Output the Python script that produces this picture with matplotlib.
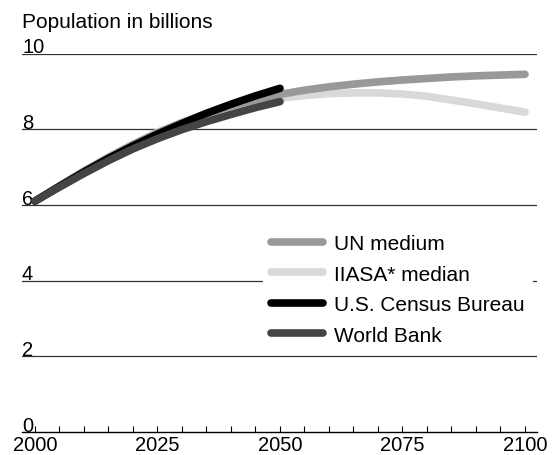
import matplotlib
matplotlib.use("Agg")
import matplotlib.pyplot as plt
from matplotlib.ticker import MultipleLocator

plt.rcParams['font.family'] = ['Liberation Sans', 'DejaVu Sans']

years_long = [2000, 2005, 2010, 2015, 2020, 2025, 2030, 2035, 2040, 2045, 2050,
              2055, 2060, 2065, 2070, 2075, 2080, 2085, 2090, 2095, 2100]
years_short = [2000, 2005, 2010, 2015, 2020, 2025, 2030, 2035, 2040, 2045, 2050]

un_medium = [6.1, 6.5, 6.89, 7.25, 7.59, 7.9, 8.17, 8.41, 8.61, 8.78, 8.92,
             9.03, 9.12, 9.19, 9.25, 9.3, 9.34, 9.38, 9.41, 9.43, 9.45]
iiasa_median = [6.1, 6.51, 6.9, 7.27, 7.61, 7.92, 8.18, 8.4, 8.58, 8.72, 8.82,
                8.89, 8.94, 8.96, 8.96, 8.93, 8.87, 8.77, 8.67, 8.56, 8.45]
us_census = [6.1, 6.49, 6.87, 7.23, 7.56, 7.87, 8.15, 8.42, 8.66, 8.88, 9.08]
world_bank = [6.1, 6.47, 6.83, 7.17, 7.48, 7.75, 7.99, 8.2, 8.39, 8.57, 8.73]

labels = ['UN medium', 'IIASA* median', 'U.S. Census Bureau', 'World Bank']
colors = ['#999999', '#d9d9d9', '#000000', '#444444']
grid_vals = [2, 4, 6, 8, 10]
ytick_labels = ['0', '2', '4', '6', '8', '10']

W, H = 553, 456
fig = plt.figure(figsize=(W / 100, H / 100), dpi=100)
ax = fig.add_axes([22 / W, (H - 433) / H, 515 / W, (433 - 54.5) / H])
ax.set_xlim(1997.35, 2102.45)
ax.set_ylim(0, 10)

lw = 5.5
h_iiasa, = ax.plot(years_long, iiasa_median, color=colors[1], lw=lw, solid_capstyle='round',
                   solid_joinstyle='round', clip_on=False, zorder=3)
h_un, = ax.plot(years_long, un_medium, color=colors[0], lw=lw, solid_capstyle='round',
                solid_joinstyle='round', clip_on=False, zorder=4)
h_us, = ax.plot(years_short, us_census, color=colors[2], lw=lw, solid_capstyle='round',
                solid_joinstyle='round', clip_on=False, zorder=5)
h_wb, = ax.plot(years_short, world_bank, color=colors[3], lw=lw, solid_capstyle='round',
                solid_joinstyle='round', clip_on=False, zorder=6)

for g in grid_vals:
    ax.axhline(g, color='#333333', lw=0.9, zorder=1)

for spine in ['top', 'right', 'left']:
    ax.spines[spine].set_visible(False)
ax.spines['bottom'].set_linewidth(1.0)

ax.set_yticks([])
ax.xaxis.set_major_locator(MultipleLocator(25))
ax.xaxis.set_minor_locator(MultipleLocator(5))
ax.set_xticks([2000, 2025, 2050, 2075, 2100])
ax.tick_params(axis='x', which='both', direction='in', length=4.3, width=0.8, pad=2.5, labelsize=14.5)

for i, lab in enumerate(ytick_labels):
    ax.annotate(lab, xy=(0, 2 * i), xycoords=('axes fraction', 'data'),
                xytext=(0, 0.8), textcoords='offset points',
                ha='left', va='baseline', fontsize=14.5)

fig.text(22 / W, 1 - 28.3 / H, 'Population in billions', ha='left', va='baseline', fontsize=15)

leg = ax.legend([h_un, h_iiasa, h_us, h_wb], labels, loc='upper left',
                bbox_to_anchor=((263 - 22) / 515, (433 - 227) / (433 - 54.5)),
                fontsize=15, frameon=True, facecolor='white', edgecolor='none', framealpha=1,
                handlelength=2.5, handletextpad=0.5, labelspacing=0.55, borderpad=0.4,
                borderaxespad=0, fancybox=False)
leg.set_zorder(10)

fig.savefig('out.png', dpi=100)
